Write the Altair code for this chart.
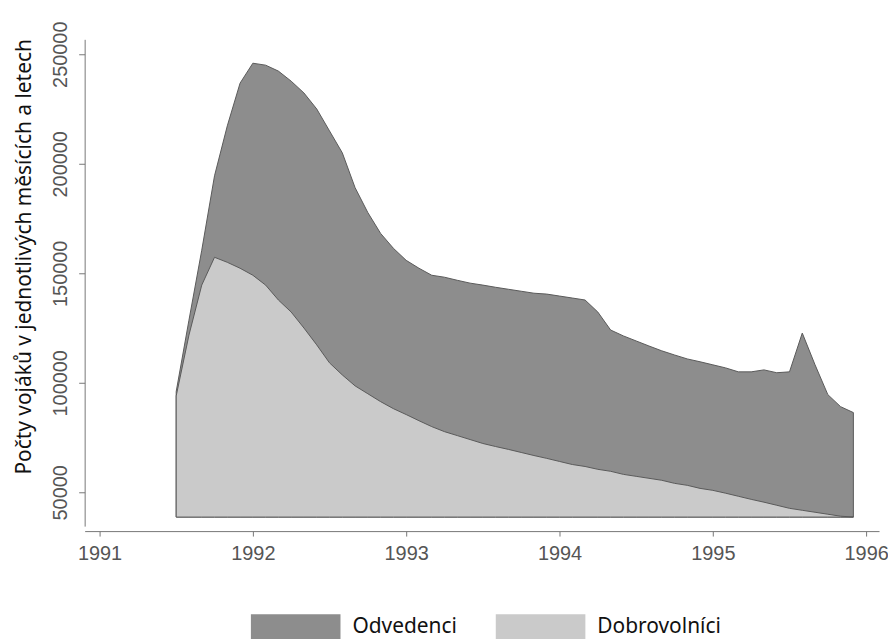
import altair as alt
import pandas as pd

# --- data -------------------------------------------------------------------
mesice = [f"{r}-{m:02d}" for r, m in
          [(1991, m) for m in range(7, 13)] +
          [(r, m) for r in (1992, 1993, 1994, 1995) for m in range(1, 13)]]

# upper edge of the dark area (Odvedenci drawn up to the total)
celkem = [96000, 128600, 160500, 194500, 217300, 236800,
          245900, 245000, 242300, 237700, 232300, 225000, 215000, 205000, 189100, 177700, 168200, 161400,
          155900, 152300, 149100, 148200, 146800, 145500, 144600, 143600, 142700, 141800, 140900, 140500,
          139600, 138700, 137800, 132300, 124100, 121400, 119100, 116800, 114600, 112700, 110900, 109600,
          108200, 106800, 105000, 105000, 105900, 104600, 105000, 122700, 108200, 94600, 89100, 86400]

dobrovolnici = [94000, 121800, 144600, 157300, 155000, 152300,
                149100, 144600, 137800, 132300, 125000, 117300, 109100, 103600, 98600, 95000, 91400, 88200,
                85500, 82700, 80000, 77700, 75900, 74100, 72300, 70900, 69600, 68200, 66800, 65500,
                64100, 62700, 61800, 60500, 59600, 58200, 57300, 56400, 55500, 54100, 53200, 51800,
                50900, 49600, 48200, 46800, 45500, 44100, 42700, 41800, 40900, 40000, 39100, 38700]

roky = [1991, 1992, 1993, 1994, 1995, 1996]
osa_y = [50000, 100000, 150000, 200000, 250000]
serie = ["Odvedenci", "Dobrovolníci"]
barvy = ["#8d8d8d", "#cacaca"]
titulek_y = "Počty vojáků v jednotlivých měsících a letech"

# --- table -------------------------------------------------------------------
cas = [int(m[:4]) + (int(m[5:]) - 1) / 12 for m in mesice]
n = len(mesice)
zaklad = min(dobrovolnici)
df = pd.DataFrame({
    "t": cas + cas,
    "pocet": celkem + dobrovolnici,
    "serie": [serie[0]] * n + [serie[1]] * n,
    "zaklad": [zaklad] * (2 * n),
})

x = alt.X("t:Q",
          scale=alt.Scale(domain=[1990.903, 1996.084], nice=False, zero=False),
          axis=alt.Axis(values=roky, format="d", title=None, grid=False,
                        labelFont="Liberation Sans", labelFontSize=20, labelColor="#555555",
                        labelPadding=8, tickSize=5, tickColor="#777777",
                        domainColor="#777777", offset=5, labelFlush=False))
y = alt.Y("pocet:Q",
          scale=alt.Scale(domain=[34570, 256800], nice=False, zero=False),
          axis=alt.Axis(values=osa_y, format="d", title=titulek_y, grid=False,
                        labelFont="Liberation Sans", labelFontSize=20, labelColor="#555555",
                        labelAngle=270, labelAlign="center", labelBaseline="bottom",
                        labelPadding=8, tickSize=6, tickColor="#777777",
                        domainColor="#777777",
                        titleFont="Noto Sans", titleFontSize=21, titleFontWeight="normal",
                        titleColor="#111111", titlePadding=16, titleY=218))
barva = alt.Color("serie:N",
                  scale=alt.Scale(domain=serie, range=barvy),
                  legend=alt.Legend(title=None, orient="none", direction="horizontal",
                                    legendX=167, legendY=545,
                                    symbolType="M-1,-0.28L1,-0.28L1,0.28L-1,0.28Z",
                                    symbolSize=8100, symbolStrokeWidth=0, symbolOpacity=1,
                                    labelFont="Noto Sans", labelFontSize=21, labelColor="#111111",
                                    labelOffset=12, columnPadding=38))

vrstvy = []
for s in serie:
    vrstvy.append(
        alt.Chart(df).transform_filter(alt.datum.serie == s)
        .mark_area(stroke="#5a5a5a", strokeWidth=1, opacity=1)
        .encode(x=x, y=y, y2="zaklad:Q", color=barva)
    )

chart = alt.layer(*vrstvy).properties(
    width=798, height=489,
    background="white",
    autosize=alt.AutoSizeParams(type="none"),
    padding={"left": 77, "top": 30, "right": 9, "bottom": 131},
).configure_view(stroke=None)

chart.save("out.html", embed_options={"renderer": "svg", "actions": False})
